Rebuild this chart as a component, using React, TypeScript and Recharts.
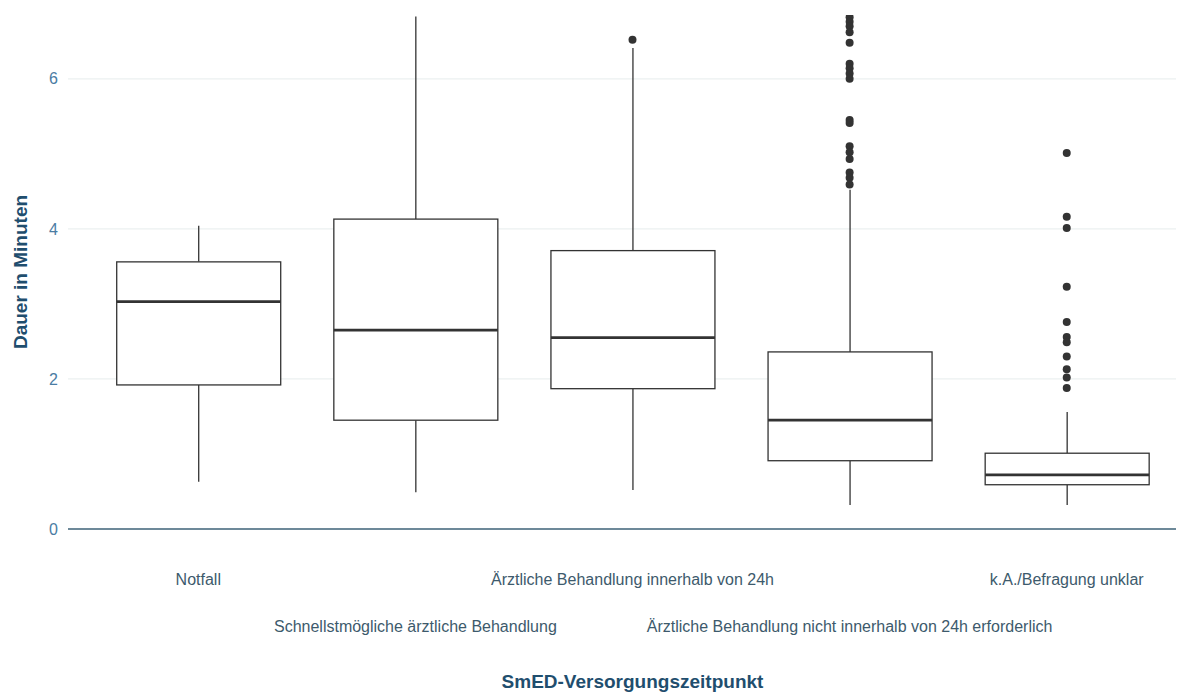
import {
  ComposedChart,
  Bar,
  Scatter,
  XAxis,
  YAxis,
  CartesianGrid,
} from 'recharts';

const categories = [
  'Notfall',
  'Schnellstmögliche ärztliche Behandlung',
  'Ärztliche Behandlung innerhalb von 24h',
  'Ärztliche Behandlung nicht innerhalb von 24h erforderlich',
  'k.A./Befragung unklar',
];

// five-number summaries per category (minutes)
const whiskerLow = [0.63, 0.49, 0.52, 0.32, 0.32];
const lowerQuartile = [1.92, 1.45, 1.87, 0.91, 0.59];
const medians = [3.03, 2.65, 2.55, 1.45, 0.72];
const upperQuartile = [3.56, 4.13, 3.71, 2.36, 1.01];
const whiskerHigh = [4.04, 6.83, 6.41, 4.52, 1.56];

// outliers beyond the whiskers, per category
const outliers: number[][] = [
  [],
  [],
  [6.52],
  [
    6.82, 6.76, 6.7, 6.62, 6.48, 6.2, 6.14, 6.07, 6.0, 5.45, 5.41, 5.1, 5.02,
    4.93, 4.75, 4.68, 4.59,
  ],
  [5.01, 4.16, 4.01, 3.23, 2.76, 2.56, 2.49, 2.3, 2.13, 2.02, 1.88],
];

const yTicks = [0, 2, 4, 6];

const boxData = categories.map((name, i) => ({
  pos: i + 1,
  name,
  low: whiskerLow[i],
  q1: lowerQuartile[i],
  median: medians[i],
  q3: upperQuartile[i],
  high: whiskerHigh[i],
}));

const outlierData = outliers.flatMap((vals, i) =>
  vals.map((value) => ({ pos: i + 1, value }))
);

const FONT = '"Liberation Sans", Arial, sans-serif';
const INK = '#333333';

function BoxShape(props: any) {
  const { x, y, width, height, payload } = props;
  if (x == null || y == null) return null;
  const top = Math.min(y, y + height);
  const bottom = Math.max(y, y + height);
  const span = payload.high - payload.low;
  const toY = (v: number) => bottom - ((bottom - top) * (v - payload.low)) / span;
  const cx = x + width / 2;
  const yq1 = toY(payload.q1);
  const yq3 = toY(payload.q3);
  const ymed = toY(payload.median);
  return (
    <g>
      <line x1={cx} x2={cx} y1={top} y2={yq3} stroke={INK} strokeWidth={1.3} />
      <line x1={cx} x2={cx} y1={yq1} y2={bottom} stroke={INK} strokeWidth={1.3} />
      <rect
        x={x}
        y={yq3}
        width={width}
        height={yq1 - yq3}
        fill="#ffffff"
        stroke={INK}
        strokeWidth={1.3}
      />
      <line x1={x} x2={x + width} y1={ymed} y2={ymed} stroke={INK} strokeWidth={2.8} />
    </g>
  );
}

function CategoryTick(props: any) {
  const { x, y, payload, index } = props;
  const label = categories[payload.value - 1] ?? '';
  const dy = index % 2 === 0 ? 56 : 103;
  return (
    <text
      x={x}
      y={y + dy}
      textAnchor="middle"
      fill="#3d5a6c"
      fontSize={16}
      fontFamily={FONT}
    >
      {label}
    </text>
  );
}

export default function App() {
  return (
    <div style={{ width: 1176, height: 685, overflow: 'hidden' }}>
      <ComposedChart
        width={1189}
        height={685}
        data={boxData}
        margin={{ top: 7, right: 0, bottom: 0, left: 0 }}
      >
        <CartesianGrid
          vertical={false}
          horizontalValues={[2, 4, 6]}
          stroke="#ebf0f0"
          strokeWidth={1.2}
        />
        <XAxis
          type="number"
          dataKey="pos"
          domain={[0.4, 5.6]}
          ticks={[1, 2, 3, 4, 5]}
          allowDataOverflow
          height={164}
          tickLine={false}
          tickSize={0}
          tickMargin={0}
          axisLine={{ stroke: '#3d6277', strokeWidth: 1.6 }}
          tick={<CategoryTick />}
          interval={0}
          label={{
            value: 'SmED-Versorgungszeitpunkt',
            position: 'insideBottom',
            offset: 5,
            style: {
              fontFamily: FONT,
              fontSize: 19,
              fontWeight: 'bold',
              fill: '#1f4e6e',
            },
          }}
        />
        <YAxis
          type="number"
          domain={[0, 6.85]}
          ticks={yTicks}
          allowDataOverflow
          width={60}
          axisLine={false}
          tickLine={false}
          tickSize={8}
          tickMargin={2}
          tick={{ fill: '#4a7ca3', fontSize: 16, fontFamily: FONT }}
          label={{
            value: 'Dauer in Minuten',
            angle: -90,
            position: 'insideLeft',
            offset: 12,
            style: {
              textAnchor: 'middle',
              fontFamily: FONT,
              fontSize: 19,
              fontWeight: 'bold',
              fill: '#1f4e6e',
            },
          }}
        />
        <Bar
          dataKey={(d: any) => [d.low, d.high]}
          barSize={164}
          shape={<BoxShape />}
          isAnimationActive={false}
        />
        <Scatter
          data={outlierData}
          dataKey="value"
          fill={INK}
          shape={(p: any) => <circle cx={p.cx} cy={p.cy} r={4} fill={INK} />}
          isAnimationActive={false}
        />
      </ComposedChart>
    </div>
  );
}
